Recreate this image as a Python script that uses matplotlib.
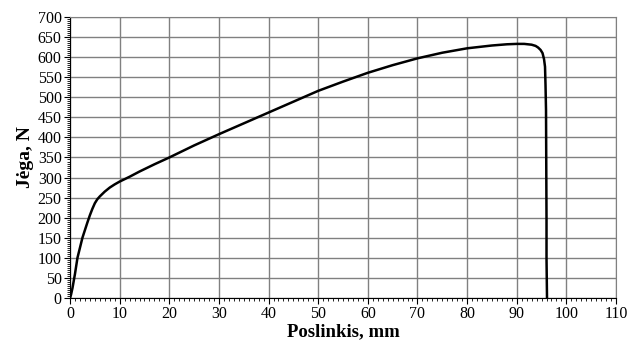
import matplotlib.pyplot as plt
from matplotlib.ticker import MultipleLocator

# displacement (mm) and force (N)
displacement = [0.0, 0.2, 0.5, 1.0, 1.5, 2.0, 2.5, 3.0, 3.5, 4.0, 4.5, 5.0, 5.5, 6.0,
                7.0, 8.0, 9.0, 10.0, 12.0, 14.0, 17.0, 20.0, 25.0, 30.0, 35.0, 40.0,
                45.0, 50.0, 55.0, 60.0, 65.0, 70.0, 75.0, 80.0, 85.0, 88.0, 90.0,
                91.5, 93.0, 93.8, 94.3, 94.8, 95.2, 95.5, 95.7, 95.8, 95.9, 96.0,
                96.0, 96.1]
force = [0, 8, 25, 60, 100, 125, 150, 169, 188, 206, 222, 236, 246, 253,
         265, 275, 283, 290, 302, 315, 333, 350, 380, 408, 435, 462,
         489, 516, 539, 561, 580, 597, 611, 622, 629, 632, 633,
         633, 631, 628, 624, 618, 610, 595, 576, 530, 468, 194,
         99, 0]

plt.rcParams['font.family'] = ['Liberation Serif', 'DejaVu Serif']

fig = plt.figure(figsize=(6.4, 3.42), dpi=100)
ax = fig.add_axes([0.1094, 0.1287, 0.8531, 0.8216])

ax.plot(displacement, force, color='black', linewidth=1.8, zorder=3)

ax.set_xlim(0, 110)
ax.set_ylim(0, 700)
ax.xaxis.set_major_locator(MultipleLocator(10))
ax.xaxis.set_minor_locator(MultipleLocator(1))
ax.yaxis.set_major_locator(MultipleLocator(50))
ax.yaxis.set_minor_locator(MultipleLocator(5))
ax.grid(True, which='major', color='#808080', linewidth=1.0)
ax.set_axisbelow(True)

ax.tick_params(which='major', direction='out', length=4, width=0.8, labelsize=11.5, pad=2)
ax.tick_params(which='minor', direction='out', length=2.5, width=0.6)
ax.spines['left'].set_color('black')
ax.spines['bottom'].set_color('black')
ax.spines['top'].set_color('#808080')
ax.spines['right'].set_color('#808080')

ax.set_xlabel('Poslinkis, mm', fontsize=13.5, fontweight='bold', labelpad=1)
ax.set_ylabel('Jėga, N', fontsize=14, fontweight='bold', labelpad=3)

fig.savefig('out.png', dpi=100)
